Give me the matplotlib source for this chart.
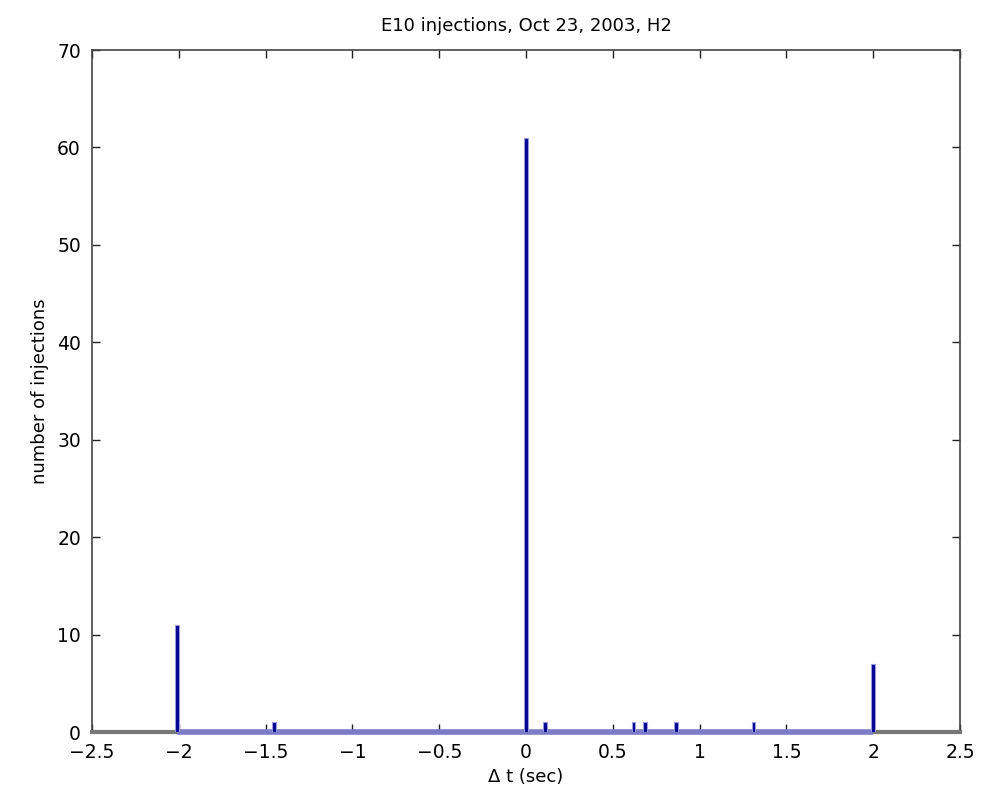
import matplotlib
matplotlib.use("Agg")
import matplotlib.pyplot as plt
import numpy as np

# Histogram of timing offsets (non-empty bins only)
bin_centers = [-2.01, -1.45, 0.0, 0.11, 0.62, 0.685, 0.865, 1.31, 2.0]
bin_counts = [11, 1, 61, 1, 1, 1, 1, 1, 7]
bin_width = 0.021
hist_range = [-2.01, 2.0]

title_text = "E10 injections, Oct 23, 2003, H2"
x_label = "\u0394 t (sec)"
y_label = "number of injections"
x_ticks = [-2.5, -2, -1.5, -1, -0.5, 0, 0.5, 1, 1.5, 2, 2.5]
x_ticklabels = ["\u22122.5", "\u22122", "\u22121.5", "\u22121", "\u22120.5", "0", "0.5", "1", "1.5", "2", "2.5"]
y_ticks = [0, 10, 20, 30, 40, 50, 60, 70]

fig = plt.figure(figsize=(9.81, 7.99), dpi=100)
ax = fig.add_axes([92 / 981, 1 - 732 / 799, (960 - 92) / 981, (732 - 50) / 799])

# Empty bins show as a thin strip along the baseline
ax.plot(hist_range, [0, 0], color="#7b7bc8", lw=4, solid_capstyle="butt",
        zorder=2.6, clip_on=False)
ax.bar(bin_centers, bin_counts, width=bin_width, color="#00008f",
       edgecolor="#9a9ae0", linewidth=0.8, zorder=3)

ax.set_xlim(-2.5, 2.5)
ax.set_ylim(0, 70)
ax.set_xticks(x_ticks)
ax.set_xticklabels(x_ticklabels)
ax.set_yticks(y_ticks)
ax.tick_params(direction="in", top=True, right=True, length=6, width=1,
               color="#222222", labelsize=13.5, pad=8)
for name, s in ax.spines.items():
    s.set_color("#444444")
    s.set_linewidth(1.2)
ax.spines["bottom"].set_color("#777777")
ax.spines["bottom"].set_linewidth(3)
ax.set_title(title_text, fontsize=13, pad=14)
ax.set_xlabel(x_label, fontsize=13, labelpad=4)
ax.set_ylabel(y_label, fontsize=13, labelpad=6)

fig.savefig("out.png", dpi=100)
